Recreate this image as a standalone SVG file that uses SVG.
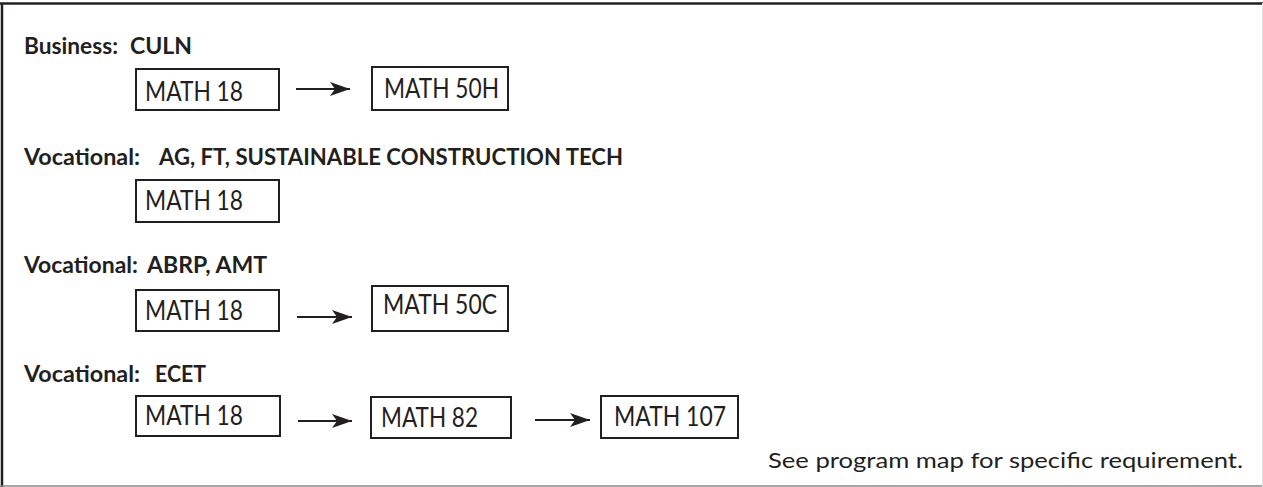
<svg xmlns="http://www.w3.org/2000/svg" width="1263" height="487" viewBox="0 0 1263 487">
<style>
.h{font-family:Lato,"Liberation Sans",sans-serif;font-weight:700;font-size:23px;fill:#231f20}
.t{font-family:Lato,"Liberation Sans",sans-serif;font-size:26px;fill:#231f20}
.n{font-family:Lato,"Liberation Sans",sans-serif;font-size:21px;fill:#231f20}
.b{fill:#fff;stroke:#231f20;stroke-width:2}
.c{stroke:#231f20;stroke-width:2;fill:none;marker-end:url(#ah)}
</style>
<defs>
<marker id="ah" markerUnits="userSpaceOnUse" markerWidth="20" markerHeight="14" refX="20" refY="7" orient="auto">
<path d="M0,0 L20,7 L0,14 L5,7 Z" fill="#231f20"/>
</marker>
</defs>
<rect x="0" y="0" width="1263" height="487" fill="#fff"/>
<g id="frame">
<line x1="0" y1="3.5" x2="1263" y2="3.5" stroke="#231f20" stroke-width="2.5"/>
<line x1="2" y1="3" x2="2" y2="487" stroke="#231f20" stroke-width="2.5"/>
<line x1="0" y1="486" x2="1263" y2="486" stroke="#8a8a8a" stroke-width="1.5"/>
<line x1="1262.5" y1="3" x2="1262.5" y2="487" stroke="#e0e0e0" stroke-width="1"/>
</g>
<g id="headings">
<text class="h" x="24" y="54"><tspan textLength="94" lengthAdjust="spacingAndGlyphs">Business:</tspan><tspan x="130" textLength="62" lengthAdjust="spacingAndGlyphs">CULN</tspan></text>
<text class="h" x="24" y="165"><tspan textLength="116" lengthAdjust="spacingAndGlyphs">Vocational:</tspan><tspan x="159" textLength="464" lengthAdjust="spacingAndGlyphs">AG, FT, SUSTAINABLE CONSTRUCTION TECH</tspan></text>
<text class="h" x="24" y="273"><tspan textLength="114" lengthAdjust="spacingAndGlyphs">Vocational:</tspan><tspan x="147" textLength="120" lengthAdjust="spacingAndGlyphs">ABRP, AMT</tspan></text>
<text class="h" x="24" y="382"><tspan textLength="116" lengthAdjust="spacingAndGlyphs">Vocational:</tspan><tspan x="155" textLength="51" lengthAdjust="spacingAndGlyphs">ECET</tspan></text>
</g>
<g id="connectors">
<line class="c" x1="296" y1="89" x2="350" y2="89"/>
<line class="c" x1="297" y1="317" x2="352" y2="317"/>
<line class="c" x1="298" y1="421" x2="352" y2="421"/>
<line class="c" x1="535" y1="420" x2="590" y2="420"/>
</g>
<g id="n-r1-math18"><rect class="b" x="136" y="69" width="143" height="41"/><text class="t" x="145" y="101" textLength="98" lengthAdjust="spacingAndGlyphs">MATH 18</text></g>
<g id="n-r1-math50h"><rect class="b" x="372" y="67" width="136" height="43"/><text class="t" x="384" y="98" textLength="115" lengthAdjust="spacingAndGlyphs">MATH 50H</text></g>
<g id="n-r2-math18"><rect class="b" x="136" y="180" width="143" height="42"/><text class="t" x="145" y="210" textLength="98" lengthAdjust="spacingAndGlyphs">MATH 18</text></g>
<g id="n-r3-math18"><rect class="b" x="136" y="290" width="143" height="41"/><text class="t" x="145" y="320" textLength="98" lengthAdjust="spacingAndGlyphs">MATH 18</text></g>
<g id="n-r3-math50c"><rect class="b" x="372" y="286" width="136" height="45"/><text class="t" x="383" y="314" textLength="114" lengthAdjust="spacingAndGlyphs">MATH 50C</text></g>
<g id="n-r4-math18"><rect class="b" x="136" y="396" width="144" height="40"/><text class="t" x="145" y="425" textLength="98" lengthAdjust="spacingAndGlyphs">MATH 18</text></g>
<g id="n-r4-math82"><rect class="b" x="371" y="397" width="140" height="41"/><text class="t" x="381" y="427" textLength="97" lengthAdjust="spacingAndGlyphs">MATH 82</text></g>
<g id="n-r4-math107"><rect class="b" x="601" y="396" width="137" height="42"/><text class="t" x="614" y="426" textLength="112" lengthAdjust="spacingAndGlyphs">MATH 107</text></g>
<g id="note"><text class="n" x="768" y="468" textLength="475" lengthAdjust="spacingAndGlyphs">See program map for specific requirement.</text></g>
</svg>
